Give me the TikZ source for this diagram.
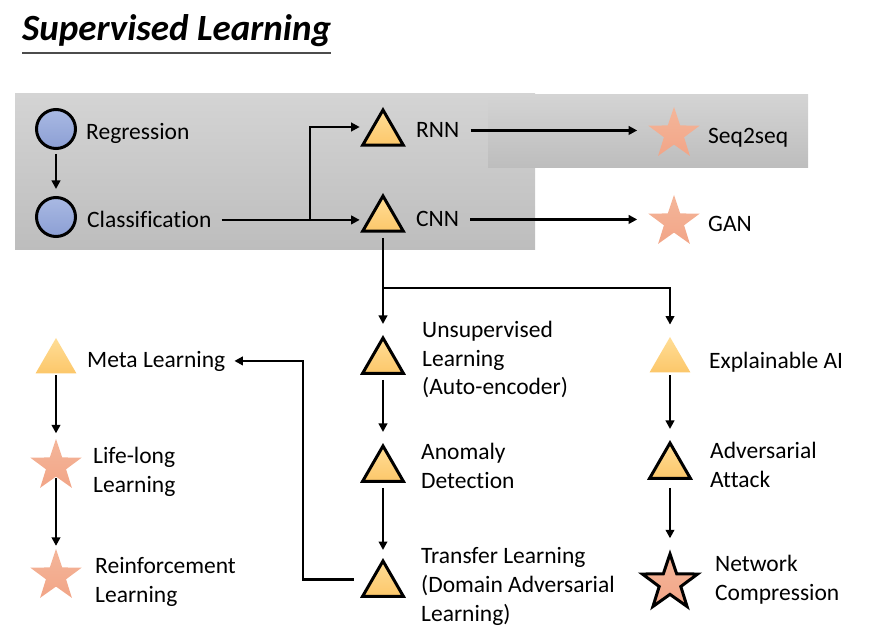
\documentclass[tikz,border=0pt]{standalone}
\usepackage{fontspec}
\setmainfont[Ligatures=NoCommon]{Carlito}
\usetikzlibrary{shapes.geometric,arrows.meta,calc}
\definecolor{triT}{HTML}{FFDD96}
\definecolor{triB}{HTML}{FCC76A}
\definecolor{starT}{HTML}{F4B69A}
\definecolor{starB}{HTML}{F2A587}
\definecolor{cirT}{HTML}{A9B9E3}
\definecolor{cirB}{HTML}{8C9FD4}
\definecolor{boxT}{HTML}{D4D4D4}
\definecolor{boxB}{HTML}{BDBDBD}
\begin{document}
\begin{tikzpicture}[x=1pt,y=-1pt,
  lbl/.style={anchor=base west, align=left, inner sep=0pt, font=\fontsize{23.5}{28.8}\selectfont, text=black},
  tri/.style={regular polygon, regular polygon sides=3, minimum size=47pt, inner sep=0pt, top color=triT, bottom color=triB},
  bd/.style={draw=black, line width=3pt, line join=miter},
  starn/.style={star, star points=5, star point ratio=2.55, minimum size=54pt, inner sep=0pt, top color=starT, bottom color=starB},
  cir/.style={circle, minimum size=39pt, inner sep=0pt, draw=black, line width=3pt, top color=cirT, bottom color=cirB},
  arr/.style={line width=2.7pt, -{Triangle[length=8.5pt,width=8.5pt]}},
  ln/.style={line width=2.7pt}
]
\useasboundingbox (0,0) rectangle (871,639);
% background boxes
\shade[top color=boxT, bottom color=boxB] (15,94) rectangle (535,250);
\shade[top color=boxT, bottom color=boxB] (488,95) rectangle (808,168);

% title
\node[anchor=base west, inner sep=0pt, font=\fontsize{37}{44}\selectfont\bfseries\itshape] (title) at (22,41) {Supervised Learning};
\draw[line width=1.8pt, black!70] ($(title.base west)+(0,12)$) -- ($(title.base east)+(0,12)$);

% shapes
\node[cir] (reg) at (56,129) {};
\node[cir] (cls) at (56,217) {};
\node[tri,bd] (rnn) at (383,133.5) {};
\node[tri,bd] (cnn) at (383,219.5) {};
\node[starn] (s2s) at (674,134) {};
\node[starn] (gan) at (674,222) {};
\node[tri] (meta) at (56,361.5) {};
\node[starn] (life) at (56,466) {};
\node[starn] (rl) at (56,576) {};
\node[tri,bd] (uns) at (383,361.5) {};
\node[tri,bd] (ano) at (383,469.5) {};
\node[tri,bd] (tl) at (383,584.5) {};
\node[tri] (xai) at (670,360.5) {};
\node[tri,bd] (adv) at (670,466.5) {};
\node[starn,bd,minimum size=58pt] (nc) at (670,583) {};

% labels
\node[lbl] (regt) at (86,140) {Regression};
\node[lbl] (clst) at (87,228) {Classification};
\node[lbl] (rnnt) at (416,138) {RNN};
\node[lbl] (cnnt) at (416,227) {CNN};
\node[lbl] (s2st) at (708,144) {Seq2seq};
\node[lbl] (gant) at (708,232) {GAN};
\node[lbl] (metat) at (87,367) {Meta Learning};
\node[lbl] (lifet) at (93,492) {Life-long\\Learning};
\node[lbl] (rlt) at (95,602) {Reinforcement\\Learning};
\node[lbl] (unst) at (422,395) {Unsupervised\\Learning\\(Auto-encoder)};
\node[lbl] (anot) at (421,488) {Anomaly\\Detection};
\node[lbl] (tlt) at (421,621) {Transfer Learning\\(Domain Adversarial\\Learning)};
\node[lbl] (xait) at (709,369) {Explainable AI};
\node[lbl] (advt) at (710,487) {Adversarial\\Attack};
\node[lbl] (nct) at (715,600) {Network\\Compression};

% connectors
\draw[arr, shorten <=4pt, shorten >=7pt] (reg.south) -- (cls.north);
\coordinate (br) at (clst.east -| 310,0);
\draw[arr] ($(clst.east)+(10,0)$) -- ($(clst.east -| cnn.west)+(-8,0)$);
\draw[arr] (br) |- ($(rnn.west)+(-8,-6.5)$);
\draw[arr, shorten >=22pt] ($(rnnt.east)+(11,0)$) -- (rnnt.east -| s2s.west);
\draw[arr, shorten >=22pt] ($(cnnt.east)+(11,0)$) -- (cnnt.east -| gan.west);
\draw[arr, shorten <=5pt, shorten >=11pt] (cnn.south) -- (uns.north);
\coordinate (br2) at (cnn.south |- 0,288);
\draw[arr, shorten >=12pt] (br2) -| (xai.north);
\draw[arr, shorten <=5pt, shorten >=11pt] (uns.south) -- (ano.north);
\draw[arr, shorten <=5pt, shorten >=8pt] (ano.south) -- (tl.north);
\coordinate (tv) at (303,0);
\draw[arr] ($(tl.west)+(-14,-5)$) -| (tv |- metat.east) -- ($(metat.east)+(9,0)$);
\draw[arr, shorten <=2pt, shorten >=5pt] (meta.south) -- (life.north);
\draw[arr, shorten <=1pt, shorten >=2.5pt] (life.south) -- (rl.north);
\draw[arr, shorten <=3pt, shorten >=11pt] (xai.south) -- (adv.north);
\draw[arr, shorten <=8pt, shorten >=11pt] (adv.south) -- (nc.north);
\end{tikzpicture}
\end{document}
